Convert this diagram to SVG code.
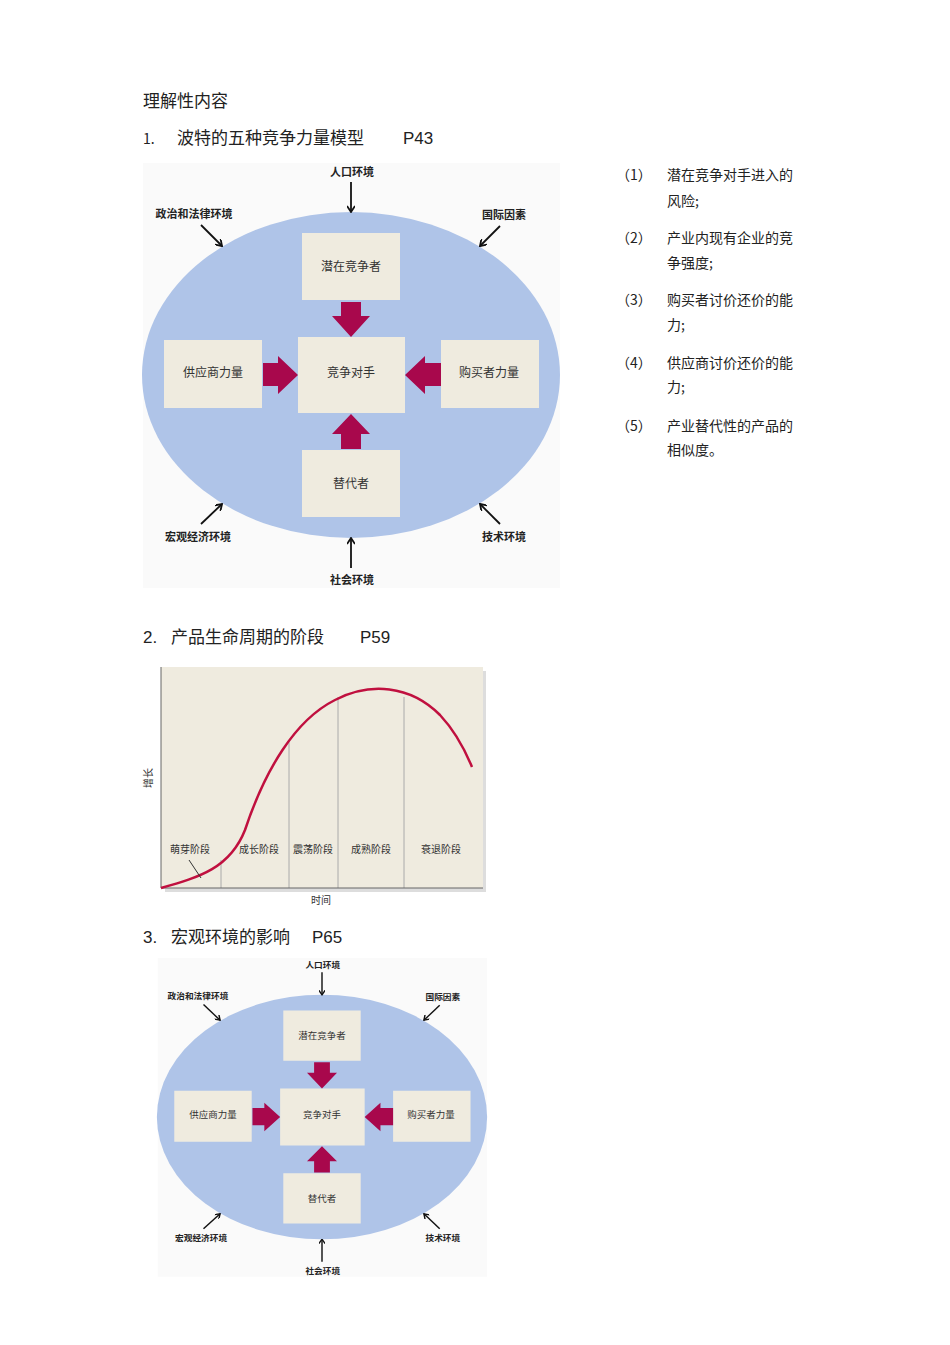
<svg xmlns="http://www.w3.org/2000/svg" xmlns:xlink="http://www.w3.org/1999/xlink" width="950" height="1345" viewBox="0 0 950 1345">
<style>
text{font-family:"Noto Sans CJK SC","Liberation Sans",sans-serif;fill:#222}
.h{font-size:17px}
.l{font-size:14px;fill:#333}
.bx{fill:#efebdf}
.bt{font-size:12px;text-anchor:middle;fill:#333}
.lb{font-size:11px;text-anchor:middle;fill:#222;font-weight:bold}
.ar{stroke:#111;stroke-width:1.8;fill:none}
.red{fill:#a8084c}
.st{font-size:10px;text-anchor:middle;fill:#333}
</style>
<defs>
<marker id="ah" markerWidth="8" markerHeight="8" refX="7" refY="4" orient="auto" markerUnits="userSpaceOnUse"><path d="M1,0 L7,4 L1,8" fill="none" stroke="#111" stroke-width="1.8"/></marker>
</defs>
<rect width="950" height="1345" fill="#fff"/>
<text x="143" y="107" class="h">理解性内容</text>
<text x="143" y="144" class="h"><tspan font-size="14">1.</tspan><tspan x="177">波特的五种竞争力量模型</tspan><tspan x="403" font-family="Liberation Sans">P43</tspan></text>
<g id="porter1">
<rect x="143" y="163" width="417" height="425" fill="#fafafa"/>
<ellipse id="env" cx="351" cy="375" rx="209" ry="163" fill="#afc4e8"/>
<g id="n-top"><rect class="bx" x="302" y="233" width="98" height="67"/><text class="bt" x="351" y="271">潜在竞争者</text></g>
<g id="n-center"><rect class="bx" x="298" y="337" width="107" height="76"/><text class="bt" x="351" y="377">竞争对手</text></g>
<g id="n-left"><rect class="bx" x="164" y="340" width="98" height="68"/><text class="bt" x="213" y="377">供应商力量</text></g>
<g id="n-right"><rect class="bx" x="441" y="340" width="98" height="68"/><text class="bt" x="489" y="377">购买者力量</text></g>
<g id="n-bottom"><rect class="bx" x="302" y="450" width="98" height="67"/><text class="bt" x="351" y="488">替代者</text></g>
<g id="red-arrows" class="red">
<polygon points="341,302 361,302 361,316 370,316 351,337 332,316 341,316"/>
<polygon points="341,449 361,449 361,434 370,434 351,414 332,434 341,434"/>
<polygon points="263,363 278,363 278,356 298,375 278,394 278,386 263,386"/>
<polygon points="441,363 425,363 425,356 405,375 425,394 425,386 441,386"/>
</g>
<g id="env-labels">
<text class="lb" x="352" y="176">人口环境</text>
<text class="lb" x="194" y="218">政治和法律环境</text>
<text class="lb" x="504" y="219">国际因素</text>
<text class="lb" x="198" y="541">宏观经济环境</text>
<text class="lb" x="504" y="541">技术环境</text>
<text class="lb" x="352" y="584">社会环境</text>
</g>
<g id="connectors">
<line class="ar" x1="351" y1="182" x2="351" y2="212" marker-end="url(#ah)"/>
<line class="ar" x1="201" y1="225" x2="222" y2="246" marker-end="url(#ah)"/>
<line class="ar" x1="500" y1="226" x2="480" y2="246" marker-end="url(#ah)"/>
<line class="ar" x1="201" y1="524" x2="222" y2="504" marker-end="url(#ah)"/>
<line class="ar" x1="500" y1="524" x2="480" y2="504" marker-end="url(#ah)"/>
<line class="ar" x1="351" y1="568" x2="351" y2="538" marker-end="url(#ah)"/>
</g>
</g>
<g id="list" class="l">
<text x="616" y="180">（1）</text><text x="667" y="180">潜在竞争对手进入的</text><text x="667" y="206">风险;</text>
<text x="616" y="243">（2）</text><text x="667" y="243">产业内现有企业的竞</text><text x="667" y="268">争强度;</text>
<text x="616" y="305">（3）</text><text x="667" y="305">购买者讨价还价的能</text><text x="667" y="330">力;</text>
<text x="616" y="368">（4）</text><text x="667" y="368">供应商讨价还价的能</text><text x="667" y="392">力;</text>
<text x="616" y="431">（5）</text><text x="667" y="431">产业替代性的产品的</text><text x="667" y="455">相似度。</text>
</g>
<text x="143" y="643" class="h"><tspan font-family="Liberation Sans">2.</tspan><tspan x="171">产品生命周期的阶段</tspan><tspan x="360" font-family="Liberation Sans">P59</tspan></text>
<g id="plc">
<rect x="165" y="671" width="321" height="221" fill="#bbb" opacity="0.5"/>
<rect x="161" y="667" width="322" height="221" fill="#efebdf"/>
<g stroke="#aaa" stroke-width="1">
<line x1="221" y1="860" x2="221" y2="888"/><line x1="289" y1="740" x2="289" y2="888"/>
<line x1="338" y1="697" x2="338" y2="888"/><line x1="404" y1="697" x2="404" y2="888"/>
</g>
<line x1="161" y1="667" x2="161" y2="888" stroke="#666"/>
<line x1="161" y1="888" x2="483" y2="888" stroke="#666"/>
<path d="M161,888 C200,877 230,868 245,830 C265,770 295,720 335,700 C370,682 410,685 440,715 C455,731 465,750 472,767" fill="none" stroke="#c0103f" stroke-width="2.5"/>
<line x1="189" y1="860" x2="201" y2="878" stroke="#333"/>
<text class="st" x="190" y="853">萌芽阶段</text>
<text class="st" x="259" y="853">成长阶段</text>
<text class="st" x="313" y="853">震荡阶段</text>
<text class="st" x="371" y="853">成熟阶段</text>
<text class="st" x="441" y="853">衰退阶段</text>
<text class="st" x="321" y="904">时间</text>
<text class="st" transform="translate(152,778) rotate(-90)">增长</text>
</g>
<text x="143" y="943" class="h"><tspan font-family="Liberation Sans">3.</tspan><tspan x="171">宏观环境的影响</tspan><tspan x="312" font-family="Liberation Sans">P65</tspan></text>
<use id="porter3" xlink:href="#porter1" href="#porter1" transform="translate(322,1117) scale(0.79,0.75) translate(-351,-375)"/>
</svg>
